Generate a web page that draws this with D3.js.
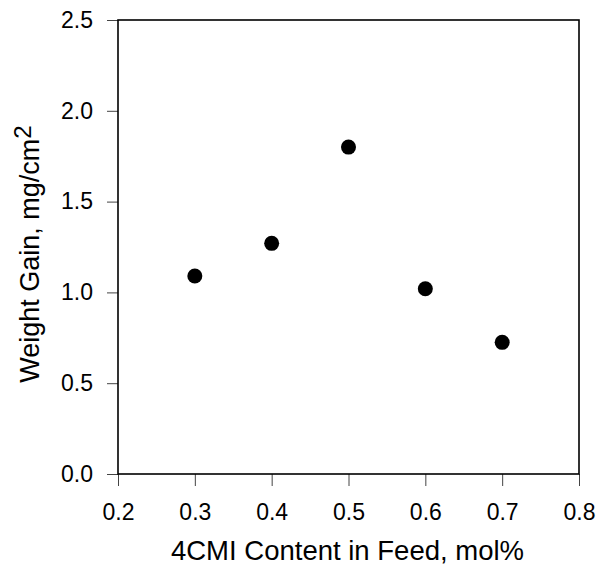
<!DOCTYPE html>
<html lang="en">
<head>
    <meta charset="UTF-8">
    <title>Weight Gain vs 4CMI Content</title>
    <script src="https://d3js.org/d3.v7.min.js"></script>
    <style>
        body { margin: 0; background: #fff; }
        text { font-family: "Liberation Sans", Arial, sans-serif; fill: #000; }
    </style>
</head>
<body>
    <div id="chart"></div>
    <script>
        // Data
        const feedContent = [0.3, 0.4, 0.5, 0.6, 0.7];
        const weightGain = [1.09, 1.27, 1.80, 1.02, 0.725];
        const xTicks = [0.2, 0.3, 0.4, 0.5, 0.6, 0.7, 0.8];
        const yTicks = [0.0, 0.5, 1.0, 1.5, 2.0, 2.5];

        const width = 599;
        const height = 565;
        const margin = {top: 20, right: 20, bottom: 91, left: 118};

        const svg = d3.select("#chart")
            .append("svg")
            .attr("width", width)
            .attr("height", height);

        const x = d3.scaleLinear()
            .domain([0.2, 0.8])
            .range([margin.left, width - margin.right]);

        const y = d3.scaleLinear()
            .domain([0, 2.5])
            .range([height - margin.bottom, margin.top]);

        // x axis
        const xAxis = svg.append("g")
            .attr("transform", `translate(0,${height - margin.bottom})`)
            .call(d3.axisBottom(x).tickValues(xTicks).tickFormat(d3.format(".1f")).tickSize(12).tickPadding(18));

        // y axis
        const yAxis = svg.append("g")
            .attr("transform", `translate(${margin.left},0)`)
            .call(d3.axisLeft(y).tickValues(yTicks).tickFormat(d3.format(".1f")).tickSize(11).tickPadding(14));

        [xAxis, yAxis].forEach(g => {
            g.select(".domain").remove();
            g.selectAll(".tick line").attr("stroke", "#444").attr("stroke-width", 1);
            g.selectAll(".tick text")
                .style("font-family", "'Liberation Sans', Arial, sans-serif")
                .style("font-size", "23px")
                .attr("fill", "#000");
        });

        // frame
        svg.append("rect")
            .attr("x", x(0.2))
            .attr("y", y(2.5))
            .attr("width", x(0.8) - x(0.2))
            .attr("height", y(0) - y(2.5))
            .attr("fill", "none")
            .attr("stroke", "#000")
            .attr("stroke-width", 1.6);

        // points
        svg.selectAll("circle.pt")
            .data(feedContent)
            .enter()
            .append("circle")
            .attr("class", "pt")
            .attr("cx", d => x(d))
            .attr("cy", (d, i) => y(weightGain[i]))
            .attr("r", 7.5)
            .attr("fill", "#000");

        // axis titles
        svg.append("text")
            .attr("x", 347.5)
            .attr("y", 560)
            .attr("text-anchor", "middle")
            .style("font-size", "27.5px")
            .text("4CMI Content in Feed, mol%");

        const yTitle = svg.append("text")
            .attr("transform", `translate(39,254) rotate(-90)`)
            .attr("text-anchor", "middle")
            .style("font-size", "27px");
        yTitle.append("tspan").text("Weight Gain, mg/cm");
        yTitle.append("tspan")
            .attr("dy", -8)
            .style("font-size", "24px")
            .text("2");
    </script>
</body>
</html>
